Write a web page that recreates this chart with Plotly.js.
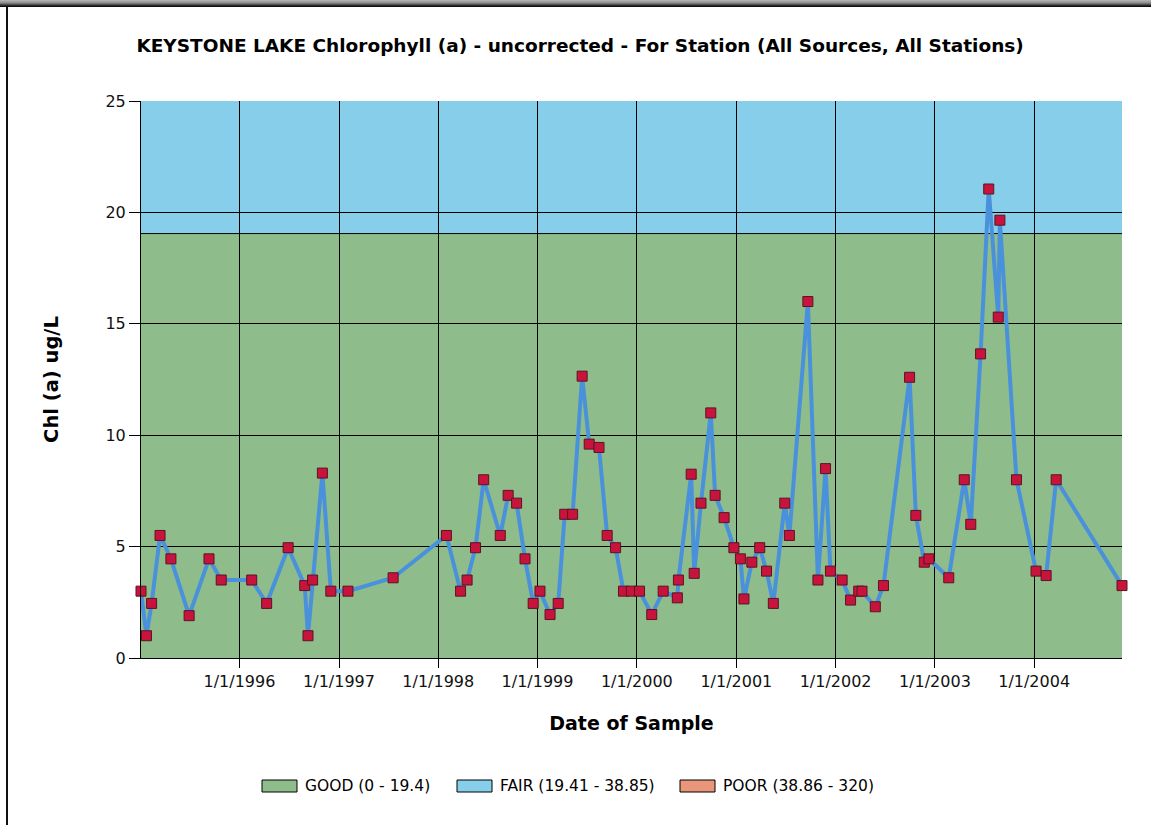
<!DOCTYPE html>
<html>
<head>
<meta charset="utf-8">
<script src="https://cdn.plot.ly/plotly-3.0.1.min.js"></script>
<style>
  html, body { margin: 0; padding: 0; background: #fff; overflow: hidden; }
  #chart { position: absolute; left: 0; top: 0; width: 1151px; height: 825px; }
  #topbar { position: absolute; left: 0; top: 0; width: 1151px; height: 7px; z-index: 10;
            background: linear-gradient(to bottom, #b8b8b8 0px, #8a8a8a 3px, #3a3a3a 5px, #000 7px); }
  #leftbar { position: absolute; left: 6px; top: 7px; width: 2px; height: 818px; z-index: 10; background: #111; }
</style>
</head>
<body>
<div id="chart"></div>
<div id="topbar"></div>
<div id="leftbar"></div>
<script>
// ---- data ----
const sampleDates = [
  '1995-01-04','1995-01-24','1995-02-12','1995-03-15','1995-04-24','1995-06-30','1995-09-11','1995-10-26',
  '1996-02-15','1996-04-10','1996-06-28','1996-08-28','1996-09-09','1996-09-26','1996-11-01','1996-12-02',
  '1997-02-03','1997-07-19',
  '1998-01-31','1998-03-24','1998-04-17','1998-05-18','1998-06-17','1998-08-17','1998-09-15','1998-10-16','1998-11-16','1998-12-16',
  '1999-01-10','1999-02-16','1999-03-18','1999-04-11','1999-05-10','1999-06-14','1999-07-10','1999-08-15','1999-09-14','1999-10-15','1999-11-13','1999-12-12',
  '2000-01-11','2000-02-25','2000-04-07','2000-05-29','2000-06-02','2000-07-19','2000-07-30','2000-08-24','2000-09-29','2000-10-15','2000-11-17','2000-12-23',
  '2001-01-16','2001-01-29','2001-02-27','2001-03-28','2001-04-22','2001-05-17','2001-06-28','2001-07-15','2001-09-21','2001-10-28','2001-11-25','2001-12-13',
  '2002-01-25','2002-02-25','2002-03-27','2002-04-08','2002-05-27','2002-06-26','2002-09-30','2002-10-23','2002-11-23','2002-12-10',
  '2003-02-21','2003-04-19','2003-05-13','2003-06-18','2003-07-18','2003-08-22','2003-08-28','2003-10-28',
  '2004-01-08','2004-02-14','2004-03-22','2004-11-19'
];
const chlValues = [
  3.0, 1.0, 2.45, 5.5, 4.45, 1.9, 4.45, 3.5,
  3.5, 2.45, 4.95, 3.25, 1.0, 3.5, 8.3, 3.0,
  3.0, 3.6,
  5.5, 3.0, 3.5, 4.95, 8.0, 5.5, 7.3, 6.95, 4.45, 2.45,
  3.0, 1.95, 2.45, 6.45, 6.45, 12.65, 9.6, 9.45, 5.5, 4.95, 3.0, 3.0,
  3.0, 1.95, 3.0, 2.7, 3.5, 8.25, 3.8, 6.95, 11.0, 7.3, 6.3, 4.95,
  4.45, 2.65, 4.3, 4.95, 3.9, 2.45, 6.95, 5.5, 16.0, 3.5, 8.5, 3.9,
  3.5, 2.6, 3.0, 3.0, 2.3, 3.25, 12.6, 6.4, 4.3, 4.45,
  3.6, 8.0, 6.0, 13.65, 21.05, 15.3, 19.65, 8.0,
  3.9, 3.7, 8.0, 3.25
];
const xTickVals = ['1996-01-01','1997-01-01','1998-01-01','1999-01-01','2000-01-01','2001-01-01','2002-01-01','2003-01-01','2004-01-01'];
const xTickText = ['1/1/1996','1/1/1997','1/1/1998','1/1/1999','1/1/2000','1/1/2001','1/1/2002','1/1/2003','1/1/2004'];
const yTickVals = [0, 5, 10, 15, 20, 25];
const bandNames = ['GOOD (0 - 19.4)', 'FAIR (19.41 - 38.85)', 'POOR (38.86 - 320)'];
const bandColors = ['#8fbc8b', '#87ceeb', '#e9967a'];
const bandLower = [0, 19.05, 38.86];
const bandUpper = [19.05, 38.86, 320];

// ---- layout helpers (pixel -> paper) ----
const W = 1151, H = 825;
const M = { l: 141, r: 29, t: 101, b: 167 };
const PW = W - M.l - M.r, PH = H - M.t - M.b;
const px = x => (x - M.l) / PW;
const py = y => (H - M.b - y) / PH;

const shapes = [];
// quality bands (drawn below grid)
for (let i = 0; i < bandNames.length; i++) {
  shapes.push({ type: 'rect', xref: 'paper', yref: 'y', x0: 0, x1: 1,
    y0: bandLower[i], y1: bandUpper[i], fillcolor: bandColors[i], line: { width: 0 }, layer: 'below' });
}
// border line at top of GOOD band
shapes.push({ type: 'line', xref: 'paper', yref: 'y', x0: 0, x1: 1, y0: bandUpper[0], y1: bandUpper[0],
  line: { color: '#000', width: 1 }, layer: 'below' });

// manual legend
const legendBoxX = [262, 457, 680];
const legendY = 786;
const annotations = [];
for (let i = 0; i < bandNames.length; i++) {
  shapes.push({ type: 'rect', xref: 'paper', yref: 'paper',
    x0: px(legendBoxX[i]), x1: px(legendBoxX[i] + 35), y0: py(legendY + 6), y1: py(legendY - 6),
    fillcolor: bandColors[i], line: { color: '#000', width: 1 } });
  annotations.push({ xref: 'paper', yref: 'paper', x: px(legendBoxX[i] + 41), y: py(legendY),
    xanchor: 'left', yanchor: 'middle', showarrow: false, text: bandNames[i],
    font: { family: 'DejaVu Sans', size: 15.5, color: '#000' } });
}

const trace = {
  x: sampleDates, y: chlValues, type: 'scatter', mode: 'lines+markers',
  line: { color: '#4a91dc', width: 4 },
  marker: { symbol: 'square', size: 10, color: '#c8143c', line: { color: '#5a1424', width: 1 } },
  cliponaxis: false, showlegend: false, hoverinfo: 'x+y'
};

const layout = {
  width: W, height: H,
  margin: M,
  paper_bgcolor: '#fff', plot_bgcolor: '#fff',
  showlegend: false,
  title: { text: 'KEYSTONE LAKE Chlorophyll (a) - uncorrected - For Station (All Sources, All Stations)',
    x: 0.504, xref: 'container', xanchor: 'center', y: 1 - 45.5 / H, yref: 'container', yanchor: 'middle',
    font: { family: 'DejaVu Sans', size: 18.5, color: '#000', weight: 'bold' } },
  xaxis: {
    type: 'date', range: [sampleDates[0], sampleDates[sampleDates.length - 1]],
    tickmode: 'array', tickvals: xTickVals, ticktext: xTickText,
    ticks: 'outside', ticklen: 9, tickcolor: '#000', tickwidth: 1,
    showgrid: true, gridcolor: '#000', gridwidth: 1, zeroline: false,
    showline: true, linecolor: '#000', linewidth: 1,
    tickfont: { family: 'DejaVu Sans', size: 16, color: '#111' },
    title: { text: 'Date of Sample', standoff: 26, font: { family: 'DejaVu Sans', size: 19, color: '#000', weight: 'bold' } },
    automargin: false, fixedrange: true
  },
  yaxis: {
    range: [0, 25], tickmode: 'array', tickvals: yTickVals,
    ticks: 'outside', ticklen: 11, tickcolor: '#000', tickwidth: 1,
    showgrid: true, gridcolor: '#000', gridwidth: 1, zeroline: false,
    showline: true, linecolor: '#000', linewidth: 1,
    tickfont: { family: 'DejaVu Sans', size: 16, color: '#111' },
    title: { text: 'Chl (a) ug/L', standoff: 41, font: { family: 'DejaVu Sans', size: 19.5, color: '#000', weight: 'bold' } },
    automargin: false, fixedrange: true
  },
  shapes: shapes,
  annotations: annotations
};

Plotly.newPlot('chart', [trace], layout, { displayModeBar: false, staticPlot: true });
</script>
</body>
</html>
